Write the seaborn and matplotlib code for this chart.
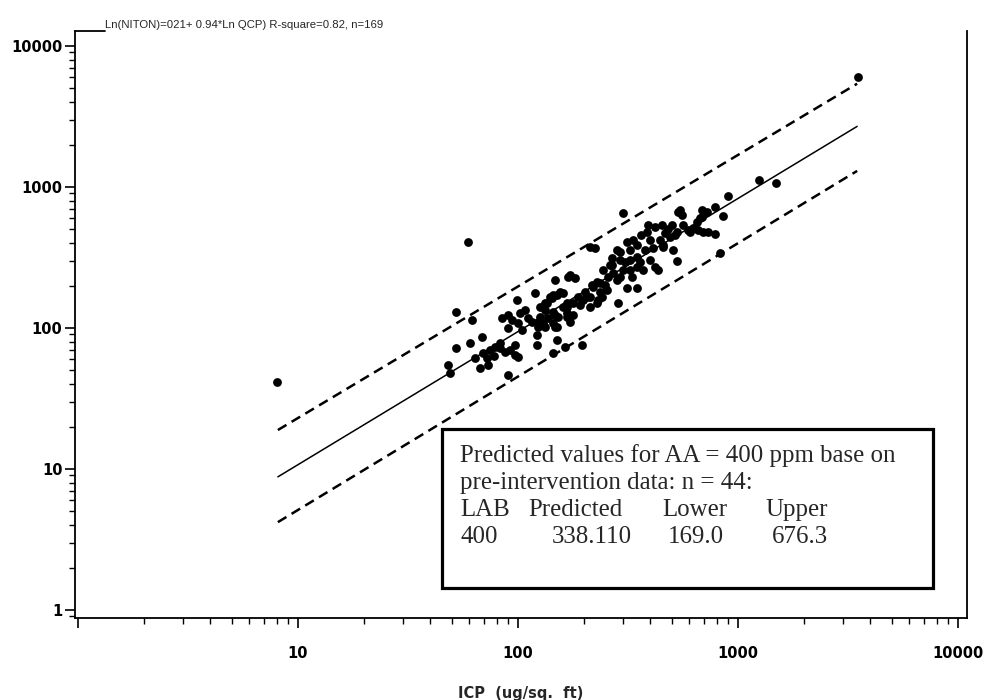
import matplotlib
matplotlib.use("Agg")
import matplotlib.pyplot as plt
import matplotlib.ticker as mticker
import seaborn as sns
import pandas as pd
from matplotlib.patches import Rectangle
from matplotlib.lines import Line2D

# ---------------- data ----------------
icp = [8.03, 59.3, 48.1, 49.1, 52.3, 52.3, 60.5, 61.8, 63.8, 67.2,
       68.6, 69.3, 72.3, 73.1, 74.6, 78.6, 82.8, 82.8, 84.6, 87.3,
       90.1, 90.1, 90.1, 92.0, 94.0, 96.9, 98.9, 100, 100, 102.1,
       104.3, 107.6, 115.8, 119.4, 122, 122, 123.3, 125.9, 132.7, 132.7,
       135.5, 142.8, 144.2, 144.2, 147.2, 147.2, 150.4, 150.4, 152, 160.2,
       163.6, 167, 167, 168.8, 172.3, 181.6, 155.3, 144.2, 195.5, 197.4,
       205.9, 187.5, 177.8, 167, 160.2, 139.8, 132.7, 212.5, 228.6, 167,
       177.8, 172.3, 147.2, 144.2, 150.4, 125.9, 130, 123.3, 212.5, 223.9,
       216.9, 228.6, 235.9, 253.8, 241, 212.5, 219.2, 235.9, 261.8, 267.4,
       270.2, 256.5, 281.7, 290.8, 290.8, 306.6, 300.2, 300.2, 322.9, 347.4,
       370, 281.7, 290.8, 312.9, 347.4, 284.8, 312.9, 333.1, 347.4, 322.9,
       347.4, 322.9, 362.3, 385.7, 389.8, 419.6, 398.1, 411, 398.1, 419.6,
       432.7, 451.5, 456, 465.6, 490.9, 501.2, 506.9, 517.6, 528.4, 528.4,
       533.8, 544.8, 556.3, 562.3, 592.7, 624, 651.6, 657.7, 671.5, 685.5,
       685.5, 693.4, 722.8, 731.1, 785.2, 785.2, 827.9, 855.1, 901.6, 1245,
       1489, 3510, 456, 201.6, 248.5, 267.4, 358.7, 377.8, 441.9, 480.8,
       605.3, 329.6, 231, 191.4, 136.9, 111, 96.9, 77.8, 243.4]
niton = [41.4, 407, 54.7, 48.0, 130, 72.1, 78.3, 114, 61.3, 52.0,
         86.3, 66.5, 61.3, 54.7, 69.8, 73.3, 78.3, 72.1, 118, 67.6,
         124, 100, 46.4, 69.8, 114, 64.3, 158, 62.3, 109, 128,
         96.8, 134, 110, 177, 89.2, 75.7, 110, 141, 134, 102,
         150, 163, 130, 66.5, 219, 102, 171, 82.2, 120, 177,
         73.3, 141, 120, 230, 238, 226, 180, 171, 75.7, 158,
         166, 166, 150, 150, 141, 166, 150, 141, 150, 128,
         124, 110, 124, 109, 102, 120, 109, 102, 375, 369,
         202, 212, 180, 186, 166, 166, 195, 209, 280, 280,
         245, 230, 357, 346, 303, 294, 654, 258, 258, 271,
         258, 219, 230, 192, 192, 150, 407, 421, 388, 357,
         319, 303, 457, 480, 538, 520, 421, 369, 303, 271,
         258, 538, 375, 472, 442, 538, 357, 457, 480, 299,
         665, 687, 633, 538, 495, 512, 565, 495, 603, 687,
         613, 480, 665, 480, 721, 464, 340, 623, 863, 1121,
         1067, 6000, 388, 180, 202, 314, 294, 357, 421, 504,
         480, 230, 158, 146, 118, 118, 75.7, 63.3, 258]

# regression line and prediction band end points
line_x = [8.1, 3480]
fit_y = [8.8, 2690]
upper_y = [18.9, 5400]
lower_y = [4.2, 1300]

x_ticks = [1, 10, 100, 1000, 10000]
x_tick_labels = ["", "10", "100", "1000", "10000"]
y_ticks = [1, 10, 100, 1000, 10000]
y_tick_labels = ["1", "10", "100", "1000", "10000"]

title_text = "Ln(NITON)=021+ 0.94*Ln QCP) R-square=0.82, n=169"
x_label = "ICP  (ug/sq.  ft)"
box_line1 = "Predicted values for AA = 400 ppm base on"
box_line2 = "pre-intervention data: n = 44:"
table_header = ["LAB", "Predicted", "Lower", "Upper"]
table_values = ["400", "338.110", "169.0", "676.3"]

# ---------------- drawing ----------------
sns.set_theme(style="ticks")
plt.rcParams["font.family"] = ["DejaVu Sans"]

fig = plt.figure(figsize=(9.87, 7.0), dpi=100)
ax = fig.add_axes([0.07599, 0.11714, 0.90375, 0.83857])
ax.set_xscale("log")
ax.set_yscale("log")

df = pd.DataFrame({"ICP": icp, "NITON": niton})
sns.scatterplot(data=df, x="ICP", y="NITON", ax=ax, color="black",
                s=40, marker="o", edgecolor="black", linewidth=0, zorder=3)

lines = pd.DataFrame({"x": line_x, "fit": fit_y, "up": upper_y, "lo": lower_y})
sns.lineplot(data=lines, x="x", y="fit", ax=ax, color="black", linewidth=1.1,
             estimator=None, sort=False)
for col in ["up", "lo"]:
    sns.lineplot(data=lines, x="x", y=col, ax=ax, color="black", linewidth=1.8,
                 estimator=None, sort=False, linestyle=(0, (4, 2.4)))

ax.set_xlim(0.969, 10990)
ax.set_ylim(0.878, 12770)

ax.xaxis.set_major_locator(mticker.FixedLocator(x_ticks))
ax.xaxis.set_major_formatter(mticker.FixedFormatter(x_tick_labels))
ax.yaxis.set_major_locator(mticker.FixedLocator(y_ticks))
ax.yaxis.set_major_formatter(mticker.FixedFormatter(y_tick_labels))
ax.xaxis.set_minor_locator(mticker.LogLocator(base=10, subs=range(2, 10), numticks=20))
ax.yaxis.set_minor_locator(mticker.LogLocator(base=10, subs=range(2, 10), numticks=20))
ax.xaxis.set_minor_formatter(mticker.NullFormatter())
ax.yaxis.set_minor_formatter(mticker.NullFormatter())

ax.tick_params(axis="both", which="major", direction="out", length=7, width=1.2,
               colors="black", labelsize=10.5)
ax.tick_params(axis="both", which="minor", direction="out", length=4.5, width=1.0,
               colors="black")
ax.tick_params(axis="x", which="major", pad=13)
ax.tick_params(axis="y", which="major", pad=2)
for lab in ax.get_xticklabels() + ax.get_yticklabels():
    lab.set_fontweight("bold")

ax.set_xlabel("")
ax.set_ylabel("")
ax.text(0.5, -0.128, x_label, transform=ax.transAxes, ha="center", va="center",
        fontsize=10.5, fontweight="bold")

for side in ["left", "right", "bottom"]:
    ax.spines[side].set_visible(True)
    ax.spines[side].set_color("black")
    ax.spines[side].set_linewidth(1.3)
ax.spines["top"].set_visible(False)
ax.add_line(Line2D([0, 0.0336], [1, 1], transform=ax.transAxes, color="black",
                   linewidth=1.3, clip_on=False))

fig.text(105 / 987, 1 - 28 / 700, title_text, ha="left", va="baseline",
         fontsize=8.2, family=["Liberation Sans", "DejaVu Sans"])

# annotation box
ax.add_patch(Rectangle((0.4114, 0.0511), 0.5505, 0.2709, transform=ax.transAxes,
                       facecolor="white", edgecolor="black", linewidth=2.3, zorder=5))
serif = ["Liberation Serif", "DejaVu Serif"]


def ax_x(px):
    return (px - 75) / 892


def ax_y(py):
    return (618 - py) / 587


fs_box = 17.9
ax.text(ax_x(460), ax_y(462), box_line1, transform=ax.transAxes, ha="left",
        va="baseline", fontsize=fs_box, family=serif, zorder=6)
ax.text(ax_x(460), ax_y(489), box_line2, transform=ax.transAxes, ha="left",
        va="baseline", fontsize=fs_box, family=serif, zorder=6)
for lbl, px in zip(table_header, [460, 528, 662, 765]):
    ax.text(ax_x(px), ax_y(516), lbl, transform=ax.transAxes, ha="left",
            va="baseline", fontsize=fs_box, family=serif, zorder=6)
for lbl, px in zip(table_values, [460, 552, 668, 772]):
    ax.text(ax_x(px), ax_y(543), lbl, transform=ax.transAxes, ha="left",
            va="baseline", fontsize=fs_box, family=serif, zorder=6)

fig.savefig("out.png", dpi=100, facecolor="white")
